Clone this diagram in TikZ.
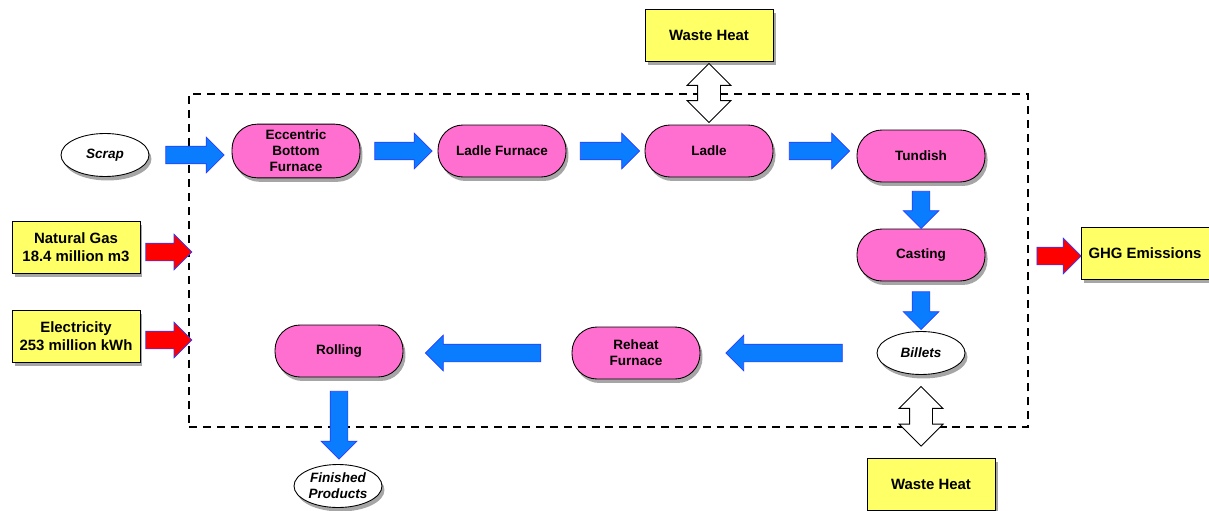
\documentclass[tikz,border=0pt]{standalone}
\usepackage{fontspec}
\setmainfont{Liberation Sans}
\usetikzlibrary{shapes.arrows,shapes.geometric,shadows,calc,positioning}
\definecolor{procpink}{HTML}{FF6FCF}
\definecolor{boxyellow}{HTML}{FFFF66}
\definecolor{flowblue}{HTML}{0A7DFF}
\definecolor{flowedge}{HTML}{2A3CFF}
\definecolor{inred}{HTML}{FF0000}

\newcommand{\procfont}{\fontsize{7.7}{9.1}\selectfont\bfseries}
\newcommand{\boxfont}{\fontsize{8.5}{10.2}\selectfont\bfseries}

\tikzset{
  shade/.style={drop shadow={shadow xshift=0.05cm,shadow yshift=-0.08cm,fill=black,opacity=0.35}},
  proc/.style={draw,fill=procpink,rounded corners=0.5cm,minimum width=2.56cm,minimum height=1.04cm,
    align=center,font=\procfont,shade,line width=0.5pt},
  stock/.style={draw,fill=white,ellipse,minimum width=1.76cm,minimum height=0.86cm,inner sep=0pt,
    align=center,font=\procfont\itshape,shade,line width=0.5pt},
  store/.style={draw,fill=boxyellow,minimum width=2.56cm,minimum height=1.04cm,
    align=center,font=\boxfont,shade,line width=0.5pt},
  flow/.style={single arrow,draw=flowedge,fill=flowblue,line width=0.4pt,inner xsep=0pt,inner ysep=0.17cm,
    minimum width=0.70cm,single arrow head extend=0.18cm},
  feed/.style={flow,fill=inred},
  heat/.style={double arrow,draw=black,fill=white,line width=0.5pt,inner xsep=0pt,inner ysep=0.22cm,
    minimum width=0.86cm,double arrow head extend=0.21cm}
}

% block arrow between two points, shortened by a gap given in px
\newcommand{\flowarrow}[4][flow]{%
  \path let \p1=(#2), \p2=(#3), \n1={veclen(\x2-\x1,\y2-\y1)}, \n2={atan2(\y2-\y1,\x2-\x1)} in
    node[#1,minimum height=\n1-#4*0.567,rotate=\n2] at ($(\p1)!0.5!(\p2)$) {};}

\begin{document}
\begin{tikzpicture}[x=0.02cm,y=-0.02cm]
\useasboundingbox (0,0) rectangle (1209,510);

\node[draw,dashed,dash pattern=on 4.5pt off 3.4pt,line width=0.7pt,minimum width=16.78cm,minimum height=6.66cm] (plant) at (608.5,260.5) {};

\node[stock] (scrap) at (105,155) {Scrap};
\node[proc] (ebf) at (296,151) {Eccentric\\Bottom\\Furnace};
\node[proc] (lf) at (502,151) {Ladle Furnace};
\node[proc] (ladle) at (709,151) {Ladle};
\node[proc] (tundish) at (921,156) {Tundish};
\node[proc] (casting) at (921,255) {Casting};
\node[stock] (billets) at (921,353) {Billets};
\node[proc] (reheat) at (636,353) {Reheat\\Furnace};
\node[proc] (rolling) at (339,351) {Rolling};
\node[stock] (finished) at (338,486) {Finished\\Products};

\node[store] (heattop) at (709,35) {Waste Heat};
\node[store] (heatbot) at (931,484) {Waste Heat};
\node[store] (gas) at (76,247) {Natural Gas\\18.4 million m3};
\node[store] (power) at (76,336) {Electricity\\253 million kWh};
\node[store] (ghg) at (1145,253) {GHG Emissions};

\coordinate (gasout) at ($(gas.east)+(0,5)$);
\coordinate (powerout) at ($(power.east)+(0,4)$);
\coordinate (ghgin) at ($(ghg.west)+(0,3)$);

\flowarrow{scrap.east}{ebf.west |- scrap.east}{24}
\flowarrow{ebf.east}{lf.west}{20}
\flowarrow{lf.east}{ladle.west}{19}
\flowarrow{ladle.east}{tundish.west |- ladle.east}{23}
\flowarrow{tundish.south}{casting.north}{9}
\flowarrow{casting.south}{billets.north}{12}
\flowarrow{billets.west}{reheat.east}{60}
\flowarrow{reheat.west}{reheat.west -| rolling.east}{53}
\flowarrow{rolling.south}{rolling.south |- finished.north}{19}

\flowarrow[feed]{gasout}{gasout -| plant.west}{2}
\flowarrow[feed]{powerout}{powerout -| plant.west}{2}
\flowarrow[feed]{ghgin -| plant.east}{ghgin}{8}

\flowarrow[heat]{heattop.south}{ladle.north}{4}
\flowarrow[heat]{billets.south}{billets.south |- heatbot.north}{23}
\end{tikzpicture}
\end{document}
